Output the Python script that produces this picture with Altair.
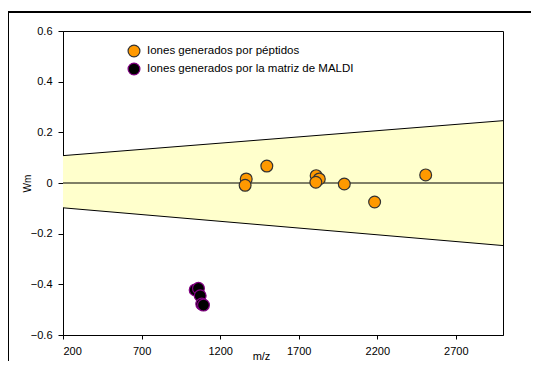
import altair as alt
import pandas as pd

pep_mz = [1366, 1359, 1497, 1811, 1831, 1809, 1990, 2183, 2508]
pep_wm = [0.016, -0.009, 0.067, 0.029, 0.016, 0.003, -0.004, -0.075, 0.032]
mat_mz = [1041, 1062, 1073, 1083, 1094]
mat_wm = [-0.422, -0.416, -0.445, -0.478, -0.482]
band_mz = [200, 3000]
band_hi = [0.108, 0.246]
band_lo = [-0.098, -0.247]

S_PEP = "Iones generados por péptidos"
S_MAT = "Iones generados por la matriz de MALDI"

pts = pd.DataFrame({
    "mz": pep_mz + mat_mz,
    "wm": pep_wm + mat_wm,
    "serie": [S_PEP] * len(pep_mz) + [S_MAT] * len(mat_mz),
})
band = pd.DataFrame({"mz": band_mz, "hi": band_hi, "lo": band_lo})
zero = pd.DataFrame({"wm": [0]})

xs = alt.Scale(domain=[200, 3000], nice=False, zero=False)
ys = alt.Scale(domain=[-0.6, 0.6], nice=False)

xax = alt.Axis(values=[200, 700, 1200, 1700, 2200, 2700], title="m/z", format="d",
               grid=False, tickSize=4, labelPadding=6, titleX=198, titleY=15,
               titleBaseline="top", titleFontWeight="normal", titleFontSize=11)
yax = alt.Axis(values=[-0.6, -0.4, -0.2, 0, 0.2, 0.4, 0.6], title="Wm",
               grid=False, tickSize=5, labelPadding=6, titleFontWeight="normal",
               titleFontSize=10, titleX=-31, titleY=152, titleAngle=270,
               titleBaseline="bottom", titleAlign="center",
               labelExpr="datum.value == 0 ? '0' : format(datum.value, '.1f')")

leg = alt.Legend(title=None, orient="none", legendX=64, legendY=13,
                 symbolSize=140, labelFontSize=11.5, rowPadding=0,
                 labelOffset=6, symbolStrokeWidth=1.2, labelLimit=400)

area = alt.Chart(band).mark_area(color="#FFFFCC", opacity=1).encode(
    x=alt.X("mz:Q", scale=xs, axis=xax),
    y=alt.Y("hi:Q", scale=ys, axis=yax),
    y2="lo:Q",
)
hi_line = alt.Chart(band).mark_line(color="black", strokeWidth=1).encode(
    x=alt.X("mz:Q", scale=xs), y=alt.Y("hi:Q", scale=ys))
lo_line = alt.Chart(band).mark_line(color="black", strokeWidth=1).encode(
    x=alt.X("mz:Q", scale=xs), y=alt.Y("lo:Q", scale=ys))
zrule = alt.Chart(zero).mark_rule(color="black", strokeWidth=1).encode(
    y=alt.Y("wm:Q", scale=ys))

points = alt.Chart(pts).mark_point(filled=True, opacity=1, size=140, strokeWidth=1.2).encode(
    x=alt.X("mz:Q", scale=xs),
    y=alt.Y("wm:Q", scale=ys),
    fill=alt.Fill("serie:N", scale=alt.Scale(domain=[S_PEP, S_MAT], range=["#FF9900", "#000000"]),
                  legend=leg),
    stroke=alt.Stroke("serie:N", scale=alt.Scale(domain=[S_PEP, S_MAT], range=["#333333", "#800080"]),
                      legend=leg),
)

frame_top = alt.Chart(zero).mark_rule(color="black", strokeWidth=2, clip=False).encode(
    x=alt.value(-55), x2=alt.value(500), y=alt.value(-19))
frame_left = alt.Chart(zero).mark_rule(color="black", strokeWidth=2, clip=False).encode(
    x=alt.value(-55), y=alt.value(-19), y2=alt.value(360))

chart = alt.layer(area, hi_line, lo_line, zrule, points, frame_top, frame_left).properties(
    width=440, height=304,
    autosize=alt.AutoSizeParams(type="none"),
    padding={"left": 55, "top": 23, "right": 28, "bottom": 26},
).configure(font="Liberation Sans").configure_view(
    stroke="black", strokeWidth=1
).configure_axis(
    labelFont="Liberation Sans", titleFont="Liberation Sans", labelFontSize=11,
    labelColor="black", titleColor="black", domainColor="black", tickColor="black",
).configure_legend(labelFont="Liberation Sans", labelColor="black")

chart.save("out.html", embed_options={"renderer": "svg", "actions": False})
